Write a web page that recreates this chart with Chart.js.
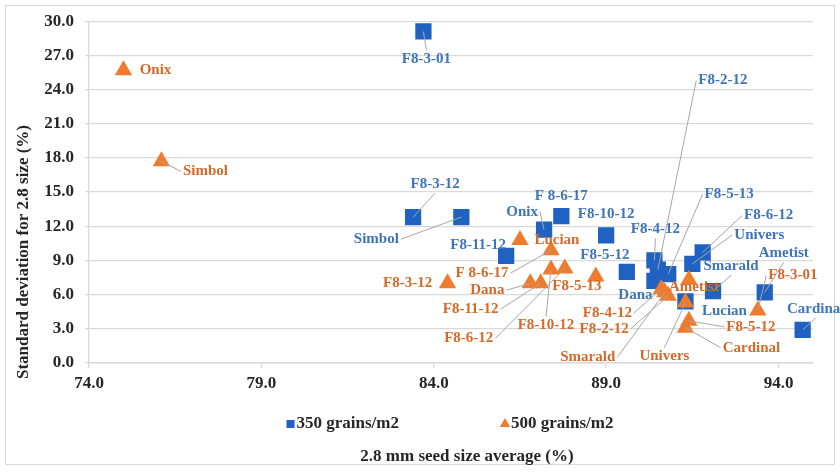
<!DOCTYPE html>
<html>
<head>
<meta charset="utf-8">
<script src="https://cdn.jsdelivr.net/npm/chart.js"></script>
<style>
  body { margin: 0; background: #fff; }
  #wrap { width: 840px; height: 472px; }
</style>
</head>
<body>
<div id="wrap"><canvas id="seedChart" width="840" height="472"></canvas></div>
<script>
// genotypes, same order in every array below
const names = ['Onix', 'Simbol', 'F8-3-01', 'F8-3-12', 'F 8-6-17', 'F8-10-12', 'F8-11-12', 'F8-5-12', 'F8-4-12',
               'F8-2-12', 'F8-5-13', 'Dana', 'F8-6-12', 'Univers', 'Smarald', 'Lucian', 'Ametist', 'Cardinal'];

// 350 grains/m2
const x350 = [87.2, 84.8, 83.7, 83.4, 87.7, 89.0, 86.1, 89.6, 90.4, 90.5, 90.8, 90.4, 91.8, 91.5, 92.1, 91.3, 93.6, 94.7];
const y350 = [11.7, 12.8, 29.1, 12.8, 12.9, 11.2, 9.4, 8.0, 9.0, 8.2, 7.8, 7.2, 9.7, 8.7, 6.3, 5.4, 6.2, 2.9];

// 500 grains/m2
const x500 = [75.0, 76.1, 93.4, 84.4, 87.4, 87.4, 87.1, 91.4, 90.6, 90.8, 88.7, 86.8, 87.8, 91.3, 90.7, 86.5, 91.4, 91.3];
const y500 = [25.7, 17.7, 4.6, 7.0, 9.9, 8.2, 7.0, 3.7, 6.5, 5.9, 7.6, 7.0, 8.3, 5.3, 6.2, 10.8, 7.3, 3.1];

const xTicks = [74, 79, 84, 89, 94];
const seriesNames = ['350 grains/m2', '500 grains/m2'];

// where each data label sits, px from its marker (label centre)
const labelOff350 = [[-22, -18], [-85, 22], [3, 28], [22, -33], [0, -20], [0, -21], [-28, -11], [-22, -17], [1, -31],
                     [65, -189], [61, -80], [-19, 14], [66, -37], [67, -29], [18, -25], [39, 10], [19, -39], [13, -21]];
const labelOff500 = [[32, 0], [44, 10], [35, -35], [-40, 0], [-69, 23], [-5, 56], [-70, 26], [62, 6], [-54, 24],
                     [-64, 33], [-19, 10], [-43, 7], [-96, 70], [-21, 54], [-77, 65], [37, 0], [5, 7], [66, 20]];
// labels that get a leader line
const leaders350 = ['Onix', 'Simbol', 'F8-3-01', 'F8-3-12', 'F8-4-12', 'F8-2-12', 'F8-5-13', 'F8-6-12', 'Univers',
                    'Smarald', 'Ametist', 'Cardinal'];
const leaders500 = ['Simbol', 'F 8-6-17', 'Dana', 'F8-11-12', 'F8-10-12', 'F8-6-12', 'F8-4-12', 'F8-2-12', 'Smarald',
                    'Univers', 'F8-3-01', 'F8-5-12', 'Cardinal'];

const BLUE = '#1f62c2';
const ORANGE = '#ef7b2e';
const textColor = '#262626';
const serif = '"Liberation Serif", "Times New Roman", serif';

Chart.defaults.font.family = serif;

const labelPlugin = {
    id: 'pointLabels',
    beforeDraw(chart) {
        const ctx = chart.ctx;
        ctx.save();
        ctx.fillStyle = '#fff';
        ctx.fillRect(0, 0, chart.width, chart.height);
        ctx.strokeStyle = '#d9d9d9';
        ctx.lineWidth = 1;
        ctx.strokeRect(5.5, 5.5, 829, 459);
        ctx.restore();
    },
    afterDatasetsDraw(chart) {
        const ctx = chart.ctx;
        const sets = [[0, labelOff350, leaders350, '#3f74b8'], [1, labelOff500, leaders500, '#d46a2a']];
        sets.forEach(([di, offs, leaders, color]) => {
            const meta = chart.getDatasetMeta(di);
            ctx.save();
            ctx.font = 'bold 15px ' + serif;
            ctx.textAlign = 'center';
            ctx.textBaseline = 'middle';
            meta.data.forEach((pt, i) => {
                const name = names[i];
                const lx = pt.x + offs[i][0];
                const ly = pt.y + offs[i][1];
                const w = ctx.measureText(name).width;
                if (leaders.includes(name)) {
                    let sx = lx, sy = ly;
                    if (Math.abs(lx - pt.x) > w / 2 + 2) {
                        sx = lx > pt.x ? lx - w / 2 - 2 : lx + w / 2 + 2;
                    } else {
                        sy = ly > pt.y ? ly - 9 : ly + 9;
                    }
                    ctx.strokeStyle = '#a6a6a6';
                    ctx.lineWidth = 1;
                    ctx.beginPath();
                    ctx.moveTo(sx, sy);
                    ctx.lineTo(pt.x, pt.y);
                    ctx.stroke();
                }
                ctx.fillStyle = color;
                ctx.fillText(name, lx, ly);
            });
            ctx.restore();
        });
    },
    afterDraw(chart) {
        const ctx = chart.ctx;
        ctx.save();
        ctx.font = 'bold 17px ' + serif;
        ctx.fillStyle = textColor;
        ctx.textBaseline = 'middle';

        // legend, drawn here so it sits above the axis title
        const legendY = 424;
        const widths = seriesNames.map(s => ctx.measureText(s).width);
        const total = 8 + widths[0] + 104 + 8 + widths[1];
        let lx = (chart.chartArea.left + chart.chartArea.right) / 2 - total / 2;
        chart.data.datasets.forEach((ds, i) => {
            ctx.fillStyle = ds.backgroundColor;
            Chart.helpers.drawPoint(ctx, { pointStyle: ds.pointStyle, radius: i === 0 ? 5.7 : 6, borderWidth: 0 }, lx + 2, legendY);
            ctx.fillStyle = textColor;
            ctx.textAlign = 'left';
            ctx.fillText(ds.label, lx + 8, legendY);
            lx += 8 + widths[i] + 104;
        });

        // axis titles
        ctx.textAlign = 'center';
        ctx.fillText('2.8 mm seed size average (%)', 467, 457);
        ctx.translate(24, 252);
        ctx.rotate(-Math.PI / 2);
        ctx.fillText('Standard deviation for 2.8 size (%)', 0, 0);
        ctx.restore();
    }
};

new Chart(document.getElementById('seedChart'), {
    type: 'scatter',
    data: {
        datasets: [{
            label: seriesNames[0],
            data: names.map((n, i) => ({ x: x350[i], y: y350[i] })),
            pointStyle: 'rect',
            pointRadius: 11.5,
            pointHoverRadius: 11.5,
            backgroundColor: BLUE,
            borderColor: BLUE,
            borderWidth: 0,
            order: 1
        }, {
            label: seriesNames[1],
            data: names.map((n, i) => ({ x: x500[i], y: y500[i] })),
            pointStyle: 'triangle',
            pointRadius: 10,
            pointHoverRadius: 10,
            backgroundColor: ORANGE,
            borderColor: ORANGE,
            borderWidth: 0,
            order: 0
        }]
    },
    options: {
        responsive: false,
        animation: false,
        events: [],
        layout: { padding: { left: 0, right: 27, top: 15, bottom: 71 } },
        plugins: {
            legend: { display: false },
            tooltip: { enabled: false }
        },
        scales: {
            x: {
                type: 'linear',
                min: 74,
                max: 95,
                afterBuildTicks: s => { s.ticks = xTicks.map(v => ({ value: v })); },
                afterFit: s => { s.height = 38; },
                grid: { drawOnChartArea: false, drawTicks: true, tickLength: 5, color: '#d9d9d9', lineWidth: 1.3 },
                border: { color: '#d9d9d9', width: 1.5 },
                ticks: {
                    autoSkip: false,
                    maxRotation: 0,
                    padding: 5,
                    color: textColor,
                    font: { size: 17, weight: 'bold' },
                    callback: v => Number(v).toFixed(1)
                }
            },
            y: {
                min: 0,
                max: 30,
                afterFit: s => { s.width = 89; },
                grid: { color: '#d9d9d9', lineWidth: 1.3, tickLength: 4 },
                border: { color: '#d9d9d9', width: 1.3 },
                ticks: {
                    stepSize: 3,
                    padding: 11,
                    color: textColor,
                    font: { size: 17, weight: 'bold' },
                    callback: v => Number(v).toFixed(1)
                }
            }
        }
    },
    plugins: [labelPlugin]
});
</script>
</body>
</html>
